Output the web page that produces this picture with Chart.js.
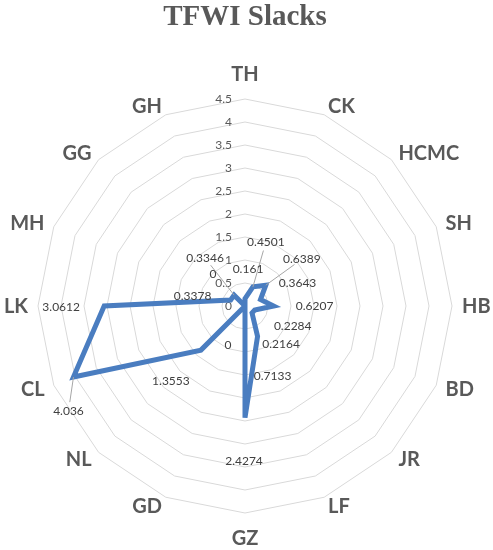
<!DOCTYPE html>
<html><head><meta charset="utf-8">
<script src="https://cdn.jsdelivr.net/npm/chart.js@4/dist/chart.umd.min.js"></script>
<style>html,body{margin:0;padding:0;background:#fff}canvas{display:block}</style>
</head><body>
<canvas id="c" width="493" height="550"></canvas>
<script>
// ---- data ----
const categories = ['TH','CK','HCMC','SH','HB','BD','JR','LF','GZ','GD','NL','CL','LK','MH','GG','GH'];
const slackValues = [0.161,0.4501,0.6389,0.3643,0.6207,0.2284,0.2164,0.7133,2.4274,0,1.3553,4.036,3.0612,0.3378,0.3346,0];
const scaleMin = 0;
const scaleMax = 4.5;
const scaleStep = 0.5;
const chartTitle = 'TFWI Slacks';

// ---- styling: data-label displacement from its point (px), leader-line indices ----
const labelShift = [[3,-29],[13,-45],[36,-26],[37,-16],[41,0],[38,16],[29,31],[15,40],[-1,43],[-17,39],[-30,31],[-5,34],[-43,1],[-38,-4],[-29,-37],[-32,-32]];
const leaderIdx = [1,2,11,14];

const labelPlugin = {
  id: 'slackLabels',
  beforeDatasetsDraw(chart) {
    const s = chart.scales.r, ctx = chart.ctx;
    ctx.save();
    ctx.font = '12px Lato';
    ctx.fillStyle = '#595959';
    ctx.textAlign = 'right';
    ctx.textBaseline = 'middle';
    s.ticks.forEach(t => {
      const d = s.getDistanceFromCenterForValue(t.value);
      ctx.fillText(String(+t.value.toFixed(2)), s.xCenter - 13, s.yCenter - d);
    });
    // category labels: anchored just outside each outer vertex
    ctx.font = 'bold 20px Lato';
    ctx.textBaseline = 'alphabetic';
    const n = chart.data.labels.length;
    chart.data.labels.forEach((lab, i) => {
      const sin = Math.sin(2 * Math.PI * i / n);
      const vertical = Math.abs(sin) < 0.01;
      const p = s.getPointPosition(i, s.drawingArea + (vertical ? 25 : 10));
      ctx.textAlign = vertical ? 'center' : (sin > 0 ? 'left' : 'right');
      ctx.fillText(lab, p.x, p.y + 7);
    });
    ctx.restore();
  },
  afterDatasetsDraw(chart) {
    const s = chart.scales.r, ctx = chart.ctx;
    const vals = chart.data.datasets[0].data;
    ctx.save();
    vals.forEach((v, i) => {
      const p = s.getPointPosition(i, s.getDistanceFromCenterForValue(v));
      const lx = p.x + labelShift[i][0], ly = p.y + labelShift[i][1];
      if (leaderIdx.includes(i)) {
        const dx = lx - p.x, dy = ly - p.y, L = Math.hypot(dx, dy);
        const k = (L - 9) / L;
        ctx.strokeStyle = '#a6a6a6';
        ctx.lineWidth = 1;
        ctx.beginPath();
        ctx.moveTo(p.x, p.y);
        ctx.lineTo(p.x + dx * k, p.y + dy * k);
        ctx.stroke();
      }
    });
    ctx.font = '12px Lato';
    ctx.fillStyle = '#404040';
    ctx.textAlign = 'center';
    ctx.textBaseline = 'middle';
    vals.forEach((v, i) => {
      const p = s.getPointPosition(i, s.getDistanceFromCenterForValue(v));
      ctx.fillText(String(v), p.x + labelShift[i][0], p.y + labelShift[i][1]);
    });
    ctx.restore();
  }
};

new Chart(document.getElementById('c'), {
  type: 'radar',
  data: {
    labels: categories,
    datasets: [{
      data: slackValues,
      borderColor: '#4a7dc0',
      borderWidth: 5,
      borderJoinStyle: 'miter',
      fill: false,
      pointRadius: 0,
      pointHoverRadius: 0,
      tension: 0
    }]
  },
  options: {
    responsive: false,
    animation: false,
    devicePixelRatio: 1,
    layout: { padding: { left: 38, right: 41, top: 0, bottom: 36 } },
    plugins: {
      legend: { display: false },
      tooltip: { enabled: false },
      title: {
        display: true,
        text: chartTitle,
        color: '#595959',
        font: { family: 'Liberation Serif', size: 29, weight: 'bold' },
        padding: { top: 0, bottom: 65 }
      }
    },
    scales: {
      r: {
        min: scaleMin,
        max: scaleMax,
        ticks: { stepSize: scaleStep, display: false },
        grid: { color: '#d9d9d9', lineWidth: 1 },
        angleLines: { display: false },
        pointLabels: { display: false }
      }
    }
  },
  plugins: [labelPlugin]
});
</script>
</body></html>
